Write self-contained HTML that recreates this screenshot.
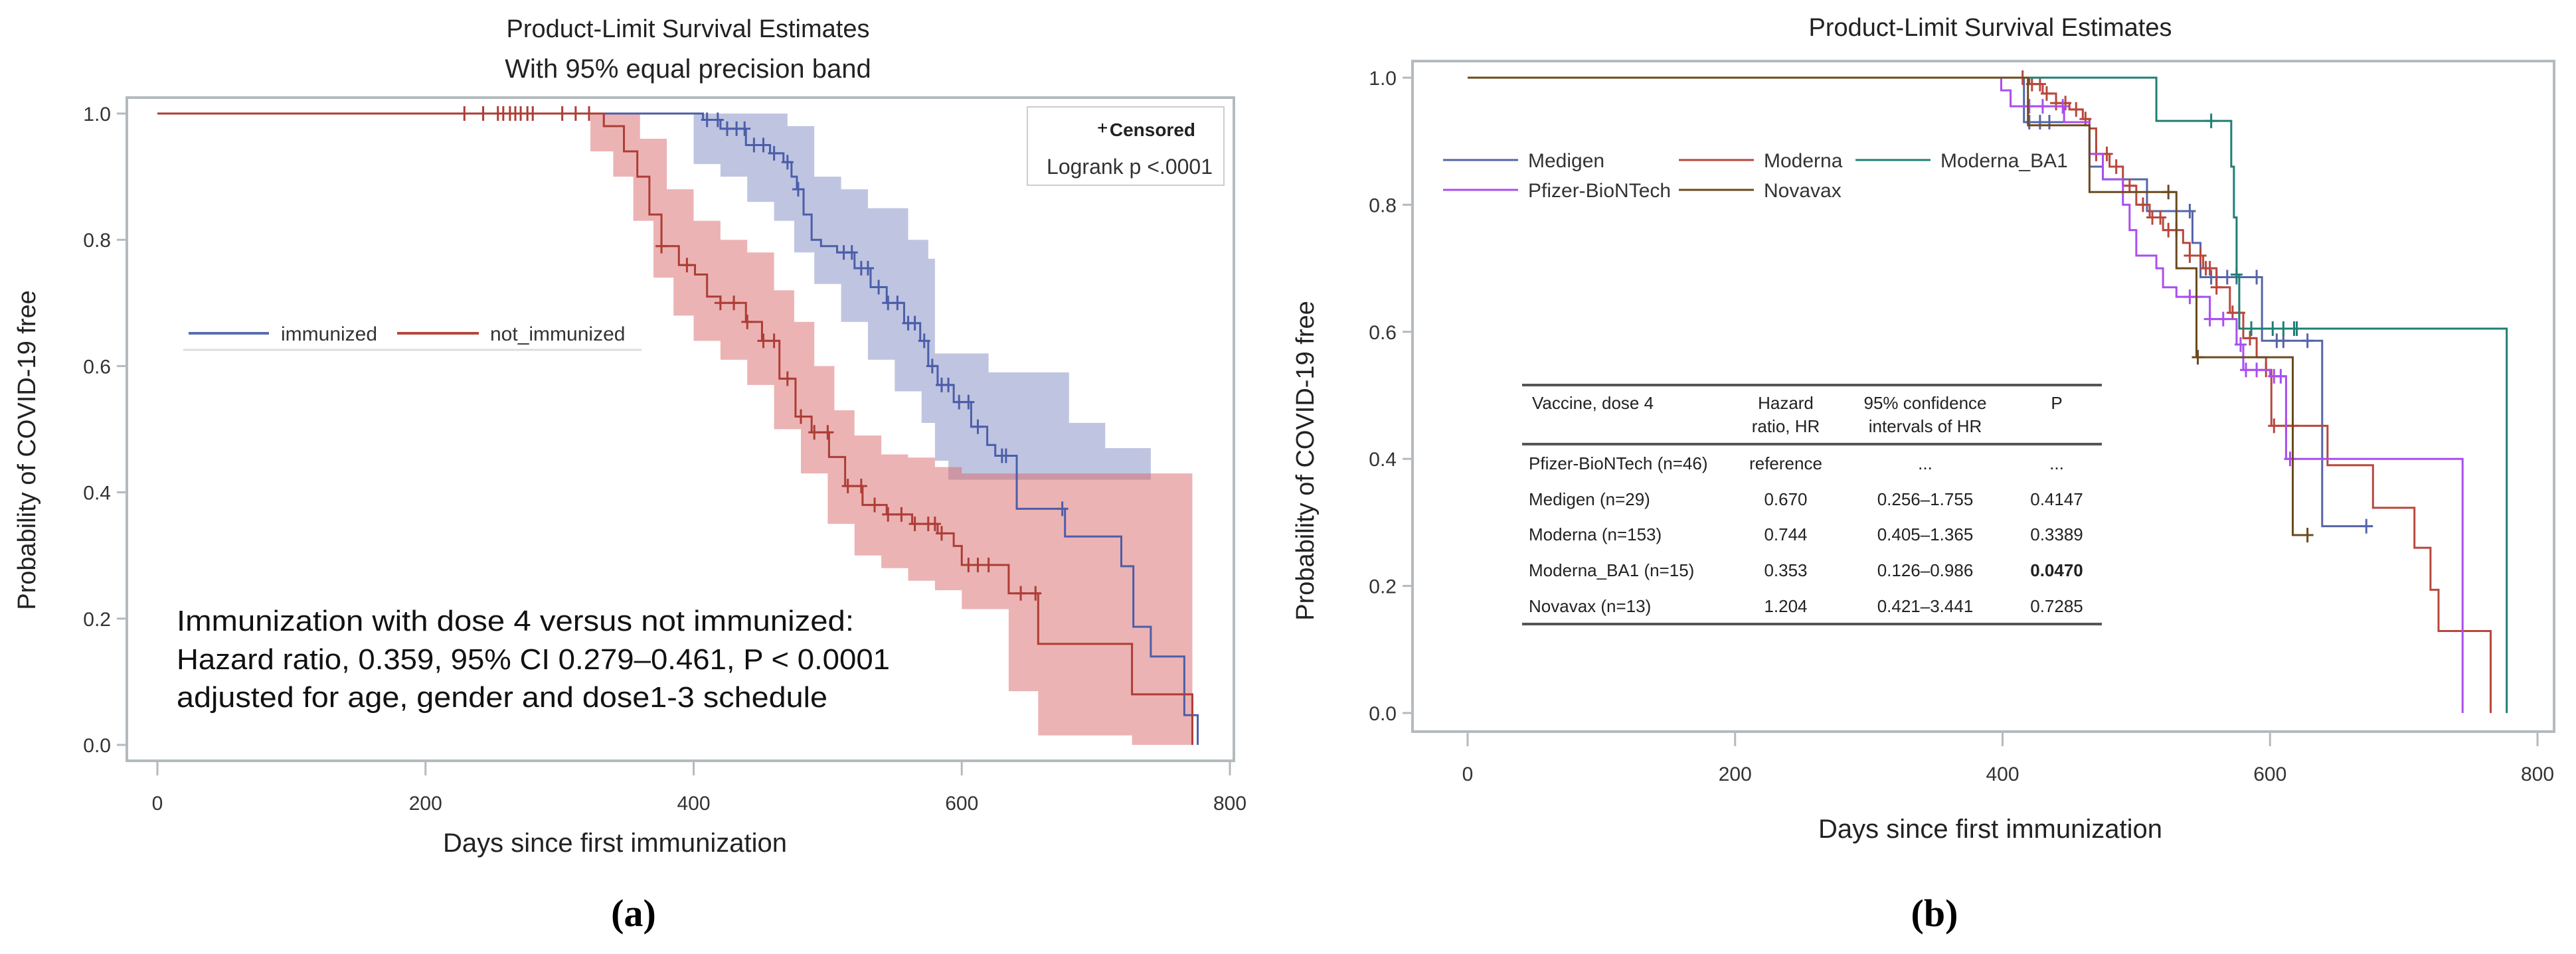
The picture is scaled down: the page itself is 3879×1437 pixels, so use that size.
<!DOCTYPE html>
<html><head><meta charset="utf-8"><style>
html,body{margin:0;padding:0;background:#fff;}
svg{display:block;font-family:"Liberation Sans",sans-serif;}
</style></head><body>
<svg id="fig" width="3879" height="1437" viewBox="0 0 3879 1437">
<g id="pa">
<text x="1036" y="56" font-size="38" text-anchor="middle" fill="#222">Product-Limit Survival Estimates</text>
<text x="1036" y="117" font-size="40" text-anchor="middle" fill="#222">With 95% equal precision band</text>
<rect x="191" y="147" width="1667" height="999" fill="none" stroke="#b4babd" stroke-width="4"/>
<g id="pa-bands"></g><g id="pa-lines"></g><g id="pa-axes"></g>
<rect x="1547" y="161" width="296" height="118" fill="#fff" stroke="#ccc" stroke-width="2"/>
<text x="1652" y="202" font-size="28">+</text>
<text x="1800" y="205" font-size="28" font-weight="bold" text-anchor="end" fill="#222">Censored</text>
<text x="1826" y="262" font-size="32" text-anchor="end" fill="#333">Logrank p &lt;.0001</text>
<line x1="284" y1="502" x2="405" y2="502" stroke="#5a6db0" stroke-width="4"/>
<text x="423" y="513" font-size="30" fill="#333">immunized</text>
<line x1="598" y1="502" x2="721" y2="502" stroke="#b5473f" stroke-width="4"/>
<text x="738" y="513" font-size="30" fill="#333">not_immunized</text>
<line x1="276" y1="527" x2="966" y2="527" stroke="#ddd" stroke-width="3"/>
<text x="266" y="950" font-size="44" fill="#111" textLength="1020" lengthAdjust="spacingAndGlyphs">Immunization with dose 4 versus not immunized:</text>
<text x="266" y="1008" font-size="44" fill="#111" textLength="1074" lengthAdjust="spacingAndGlyphs">Hazard ratio, 0.359, 95% CI 0.279–0.461, P &lt; 0.0001</text>
<text x="266" y="1065" font-size="44" fill="#111" textLength="980" lengthAdjust="spacingAndGlyphs">adjusted for age, gender and dose1-3 schedule</text>
<text x="53" y="678" font-size="38" fill="#222" text-anchor="middle" transform="rotate(-90 53 678)">Probability of COVID-19 free</text>
<text x="926" y="1283" font-size="40" fill="#222" text-anchor="middle">Days since first immunization</text>
<text x="954" y="1395" font-size="58" font-weight="bold" font-family="Liberation Serif,serif" text-anchor="middle">(a)</text>
</g>
<g id="pb">
<text x="2997" y="54" font-size="38" text-anchor="middle" fill="#222">Product-Limit Survival Estimates</text>
<rect x="2127" y="92" width="1719" height="1010" fill="none" stroke="#b4babd" stroke-width="4"/>
<g id="pb-lines"></g><g id="pb-axes"></g><g id="pb-legend"></g>
<g font-size="26" fill="#222">
<line x1="2292" y1="580" x2="3165" y2="580" stroke="#555" stroke-width="4"/>
<line x1="2292" y1="669" x2="3165" y2="669" stroke="#555" stroke-width="4"/>
<line x1="2292" y1="940" x2="3165" y2="940" stroke="#555" stroke-width="4"/>
<text x="2307" y="616">Vaccine, dose 4</text>
<text x="2689" y="616" text-anchor="middle">Hazard</text>
<text x="2689" y="651" text-anchor="middle">ratio, HR</text>
<text x="2899" y="616" text-anchor="middle">95% confidence</text>
<text x="2899" y="651" text-anchor="middle">intervals of HR</text>
<text x="3097" y="616" text-anchor="middle">P</text>
<g id="tbody"></g>
</g>
<text x="1978" y="694" font-size="38" fill="#222" text-anchor="middle" transform="rotate(-90 1978 694)">Probability of COVID-19 free</text>
<text x="2997" y="1262" font-size="40" fill="#222" text-anchor="middle">Days since first immunization</text>
<text x="2913" y="1395" font-size="58" font-weight="bold" font-family="Liberation Serif,serif" text-anchor="middle">(b)</text>
</g>
</svg>
<script>
// ---- Panel A data ----
const xTicks = [0, 200, 400, 600, 800];
const yTicks = [0.0, 0.2, 0.4, 0.6, 0.8, 1.0];
const notImmDays = [0,323,333,348,358,367,376,389,401,410,420,439,451,464,476,488,501,513,526,544,563,582,594,600,635,657,727,772];
const notImmSurv = [1,1,0.98,0.94,0.90,0.84,0.79,0.76,0.745,0.71,0.70,0.67,0.64,0.58,0.52,0.495,0.456,0.41,0.38,0.365,0.35,0.335,0.315,0.285,0.24,0.16,0.08,0];
const notImmUpDays = [323,345,360,380,400,420,440,460,475,490,505,520,540,560,580,600,772];
const notImmUpper = [1,1,0.96,0.88,0.83,0.80,0.78,0.72,0.67,0.60,0.53,0.49,0.46,0.455,0.44,0.43,0.43];
const notImmLoDays = [323,340,355,370,385,400,420,440,460,480,500,520,540,560,580,600,635,657,727,772];
const notImmLower = [0.94,0.90,0.83,0.74,0.68,0.64,0.61,0.57,0.50,0.43,0.35,0.30,0.28,0.26,0.245,0.215,0.085,0.015,0,0];
const immDays = [0,400,407,420,439,457,467,473,477,482,488,495,507,520,532,544,557,569,575,582,594,607,619,625,641,677,719,728,741,766,776];
const immSurv = [1,1,0.99,0.976,0.95,0.937,0.923,0.90,0.88,0.84,0.80,0.79,0.78,0.755,0.725,0.70,0.668,0.64,0.60,0.57,0.543,0.504,0.475,0.458,0.374,0.33,0.283,0.187,0.14,0.047,0];
const immUpDays = [400,457,470,490,510,530,560,575,580,600,620,640,660,680,707,741];
const immUpper = [1,1,0.98,0.90,0.88,0.85,0.80,0.77,0.62,0.62,0.59,0.59,0.59,0.51,0.47,0.47];
const immLoDays = [400,420,440,460,475,490,510,530,550,570,580,590,741];
const immLower = [0.92,0.90,0.86,0.83,0.78,0.73,0.67,0.61,0.56,0.51,0.45,0.42,0.42];
const notImmCensor = [229,243,254,258,263,267,271,276,280,302,312,322,376,395,420,430,440,452,460,470,480,490,500,515,525,535,545,555,565,575,580,585,605,612,620,644,655];
const immCensor = [410,418,425,432,438,445,452,460,470,478,512,518,525,530,538,545,552,560,565,572,578,585,590,598,605,612,630,633,675];

// ---- Panel B data ----
const vaccines = ["Medigen","Moderna","Moderna_BA1","Pfizer-BioNTech","Novavax"];
const medigenDays = [0,416,465,475,508,542,548,594,639,677];
const medigenSurv = [1,0.93,0.86,0.84,0.79,0.74,0.686,0.586,0.294,0.294];
const modernaDays = [0,410,420,430,440,450,460,465,470,480,490,500,510,520,535,540,550,560,570,580,590,597,601,643,677,708,720,726,765];
const modernaSurv = [1,1,0.99,0.975,0.96,0.95,0.935,0.92,0.88,0.86,0.83,0.80,0.78,0.76,0.74,0.72,0.70,0.67,0.63,0.59,0.56,0.54,0.452,0.39,0.323,0.26,0.194,0.129,0];
const ba1Days = [0,515,571,573,575,577,579,777];
const ba1Surv = [1,0.932,0.86,0.78,0.69,0.605,0.605,0];
const pfizerDays = [0,399,406,446,465,475,490,495,500,515,520,530,555,575,580,600,612,744];
const pfizerSurv = [1,0.98,0.955,0.93,0.88,0.84,0.80,0.76,0.72,0.70,0.67,0.655,0.62,0.58,0.54,0.53,0.40,0];
const novavaxDays = [0,419,465,530,545,617,628];
const novavaxSurv = [1,0.925,0.82,0.70,0.56,0.28,0.28];
const medigenCensor = [420,428,435,540,556,560,568,575,590,605,610,628,672];
const modernaCensor = [415,422,428,433,440,447,455,462,470,478,485,495,505,512,518,524,530,540,548,552,555,560,572,577,585,597,603,612,617];
const ba1Censor = [556,575,586,602,610,618,620];
const pfizerCensor = [420,430,445,540,545,555,565,578,582,590,603,608,615];
const novavaxCensor = [524,546,628];
const tableRows = ["Pfizer-BioNTech (n=46)","Medigen (n=29)","Moderna (n=153)","Moderna_BA1 (n=15)","Novavax (n=13)"];
const tableHR = ["reference","0.670","0.744","0.353","1.204"];
const tableCI = ["...","0.256–1.755","0.405–1.365","0.126–0.986","0.421–3.441"];
const tableP = ["...","0.4147","0.3389","0.0470","0.7285"];

const NS="http://www.w3.org/2000/svg";
function mk(tag, attrs, parent){const e=document.createElementNS(NS,tag);for(const k in attrs)e.setAttribute(k,attrs[k]);parent.appendChild(e);return e;}
const axA = {x0:237, x1:1852, y0:1122, y1:171};
const axB = {x0:2210, x1:3821, y0:1074, y1:117};
function sx(ax,d){return ax.x0+(ax.x1-ax.x0)*d/800;}
function sy(ax,v){return ax.y0+(ax.y1-ax.y0)*v;}
function stepPath(ax,days,vals){let d="M"+sx(ax,days[0])+" "+sy(ax,vals[0]);for(let i=1;i<days.length;i++){d+=" H"+sx(ax,days[i])+" V"+sy(ax,vals[i]);}return d;}
function stepAt(days,vals,t){let v=vals[0];for(let i=0;i<days.length;i++){if(days[i]<=t)v=vals[i];}return v;}
function bandPath(ax,ud,uv,ld,lv){let d=stepPath(ax,ud,uv);const pts=[];for(let i=ld.length-1;i>=0;i--){pts.push([ld[i],lv[i]]);}
 for(let i=0;i<pts.length;i++){const x=sx(ax,pts[i][0]),y=sy(ax,pts[i][1]);d+=" V"+y+" H"+x;}
 return d+" Z";}
function drawAxes(ax,g,pre,frameLeft,frameBottom){
 for(const t of yTicks){const y=sy(ax,t);
  const l=mk("line",{x1:frameLeft-15,x2:frameLeft,y1:y,y2:y,stroke:"#b4babd","stroke-width":3},g);
  
  
  const tx=mk("text",{x:frameLeft-24,y:y+11,"font-size":30,"text-anchor":"end",fill:"#333"},g);tx.textContent=t.toFixed(1);
  
  }
 for(const t of xTicks){const x=sx(ax,t);
  const l=mk("line",{x1:x,x2:x,y1:frameBottom,y2:frameBottom+22,stroke:"#b4babd","stroke-width":3},g);
  
  
  const tx=mk("text",{x:x,y:frameBottom+74,"font-size":30,"text-anchor":"middle",fill:"#333"},g);tx.textContent=t;
  
  }
}
function censors(ax,g,days,sDays,sVals,color,name){
 for(const c of days){const x=sx(ax,c),y=sy(ax,stepAt(sDays,sVals,c));
  const p=mk("path",{d:"M"+(x-9)+" "+y+" H"+(x+9)+" M"+x+" "+(y-11)+" V"+(y+11),stroke:color,"stroke-width":3,fill:"none"},g);
  
  }
}
// Panel A
const bandsA=document.getElementById("pa-bands"), linesA=document.getElementById("pa-lines");
const bi=mk("path",{d:bandPath(axA,immUpDays,immUpper,immLoDays,immLower),fill:"#7f8cc4","fill-opacity":0.5},bandsA);


const bn=mk("path",{d:bandPath(axA,notImmUpDays,notImmUpper,notImmLoDays,notImmLower),fill:"#d9676a","fill-opacity":0.5},bandsA);


const li=mk("path",{d:stepPath(axA,immDays,immSurv),stroke:"#4c5ea8","stroke-width":3,fill:"none"},linesA);


const ln=mk("path",{d:stepPath(axA,notImmDays,notImmSurv),stroke:"#ad3d36","stroke-width":3,fill:"none"},linesA);


censors(axA,linesA,immCensor,immDays,immSurv,"#4c5ea8","immunized-censor-mark");
censors(axA,linesA,notImmCensor,notImmDays,notImmSurv,"#ad3d36","not-immunized-censor-mark");
drawAxes(axA,document.getElementById("pa-axes"),"panel-a",191,1146);
// Panel B
const linesB=document.getElementById("pb-lines");
const seriesB=[["medigen",medigenDays,medigenSurv,medigenCensor,"#5565a8"],["moderna",modernaDays,modernaSurv,modernaCensor,"#b8473c"],["moderna-ba1",ba1Days,ba1Surv,ba1Censor,"#1f7f74"],["pfizer",pfizerDays,pfizerSurv,pfizerCensor,"#a94ef0"],["novavax",novavaxDays,novavaxSurv,novavaxCensor,"#6b4a1e"]];
for(const s of seriesB){
 const p=mk("path",{d:stepPath(axB,s[1],s[2]),stroke:s[4],"stroke-width":3,fill:"none"},linesB);
 
 
 censors(axB,linesB,s[3],s[1],s[2],s[4],s[0]+"-censor-mark");
}
drawAxes(axB,document.getElementById("pb-axes"),"panel-b",2127,1102);
const legB=document.getElementById("pb-legend");
const legPos=[[2173,241],[2528,241],[2794,241],[2173,286],[2528,286]];
const legColors=["#5565a8","#b8473c","#1f7f74","#a94ef0","#6b4a1e"];
vaccines.forEach((v,i)=>{const [x,y]=legPos[i];
 const l=mk("line",{x1:x,x2:x+113,y1:y,y2:y,stroke:legColors[i],"stroke-width":3},legB);
 
 
 const t=mk("text",{x:x+128,y:y+11,"font-size":30,fill:"#333"},legB);t.textContent=v;
 
 });
const tb=document.getElementById("tbody");
const rowY=[707,761,814,868,922];
tableRows.forEach((r,i)=>{
 const a=mk("text",{x:2302,y:rowY[i]},tb);a.textContent=r;
 
 
 const b=mk("text",{x:2689,y:rowY[i],"text-anchor":"middle"},tb);b.textContent=tableHR[i];
 
 
 const c=mk("text",{x:2899,y:rowY[i],"text-anchor":"middle"},tb);c.textContent=tableCI[i];
 
 
 const d=mk("text",{x:3097,y:rowY[i],"text-anchor":"middle","font-weight":tableP[i]==="0.0470"?"bold":"normal"},tb);d.textContent=tableP[i];
 
 
});
</script>
</body></html>
